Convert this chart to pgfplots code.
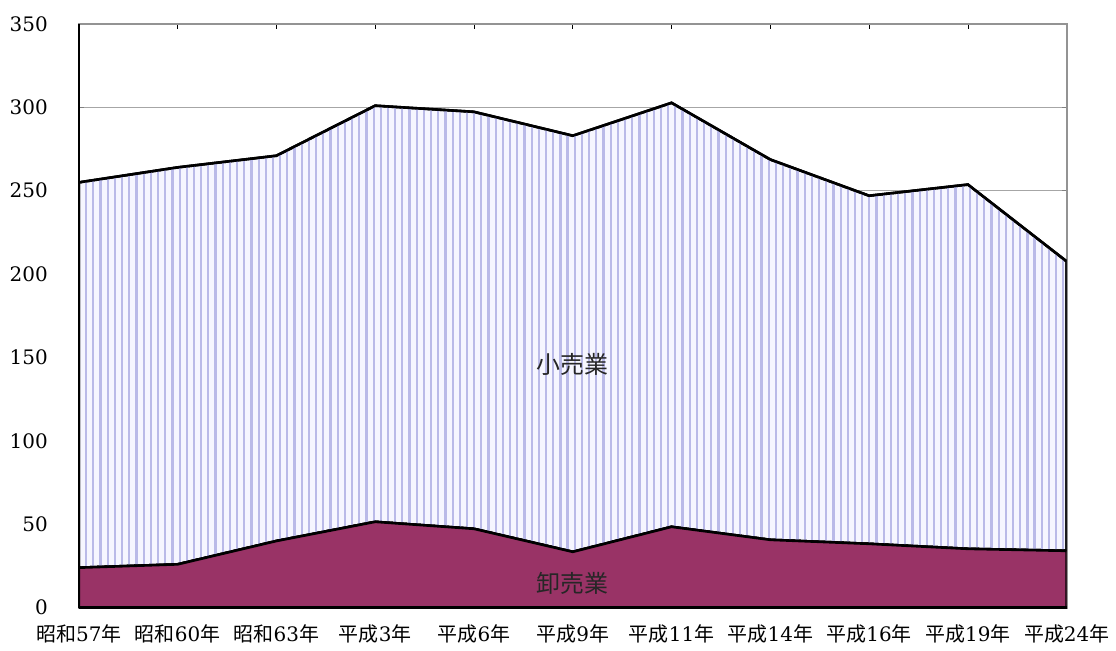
\documentclass[border=0pt]{standalone}
\usepackage{pgfplots}
\pgfplotsset{compat=1.18}
\usepackage{fontspec}
\setmainfont{DejaVu Serif}
\newfontfamily\cjk{Noto Sans CJK JP}
\usetikzlibrary{patterns.meta}
\definecolor{whole}{RGB}{153,51,102}
\definecolor{stripe}{RGB}{186,186,232}
\definecolor{paleback}{RGB}{246,246,255}
\begin{document}
\begin{tikzpicture}
\begin{axis}[
  scale only axis,
  width=495pt, height=292.5pt,
  xmin=0, xmax=10, ymin=0, ymax=350,
  xtick={0,...,10},
  xticklabels={{\cjk 昭和}57{\cjk 年},{\cjk 昭和}60{\cjk 年},{\cjk 昭和}63{\cjk 年},{\cjk 平成}3{\cjk 年},{\cjk 平成}6{\cjk 年},{\cjk 平成}9{\cjk 年},{\cjk 平成}11{\cjk 年},{\cjk 平成}14{\cjk 年},{\cjk 平成}16{\cjk 年},{\cjk 平成}19{\cjk 年},{\cjk 平成}24{\cjk 年}},
  ytick={0,50,...,350},
  ymajorgrids,
  grid style={gray!70, line width=0.4pt},
  axis line style={gray!85, line width=0.9pt},
  tick align=inside,
  major tick length=2.5pt,
  x tick style={black, line width=0.4pt},
  y tick style={gray, line width=0.4pt},
  tick label style={font=\fontsize{10pt}{12pt}\selectfont},
  /pgf/number format/assume math mode=true,
  yticklabel style={xshift=-12pt},
  xticklabel style={yshift=-5.2pt},
  stack plots=y,
]
\addplot[draw=black, line width=1.3pt, line join=miter, fill=whole] coordinates {
(0,24) (1,26) (2,40) (3,51.5) (4,47.3) (5,33.5) (6,48.5) (7,40.7) (8,38.3) (9,35.3) (10,34.1)
} \closedcycle;
\addplot[draw=black, line width=1.3pt, line join=miter, fill=paleback,
  postaction={pattern={Lines[angle=90, distance=3.6pt, line width=1.1pt]}, pattern color=stripe}] coordinates {
(0,231) (1,238) (2,231) (3,249.5) (4,250) (5,249.5) (6,254.2) (7,228) (8,208.7) (9,218.4) (10,173.5)
} \closedcycle;
\coordinate (sw) at (rel axis cs:0,0);
\coordinate (ne) at (rel axis cs:1,1);
\coordinate (lretail) at (axis cs:5,146);
\coordinate (lwhole) at (axis cs:5,14.4);
\end{axis}
\draw[black, line width=1.2pt] (sw) -- (sw |- ne);
\draw[black, line width=1.3pt] (sw) -- (sw -| ne);
\node[font=\cjk\fontsize{12pt}{14pt}\selectfont, text=black!85] at (lretail) {小売業};
\node[font=\cjk\fontsize{12pt}{14pt}\selectfont, text=black!85] at (lwhole) {卸売業};
\path (sw) ++(-39.5pt,-18.5pt);
\path (ne) ++(23.5pt,12pt);
\end{tikzpicture}
\end{document}
